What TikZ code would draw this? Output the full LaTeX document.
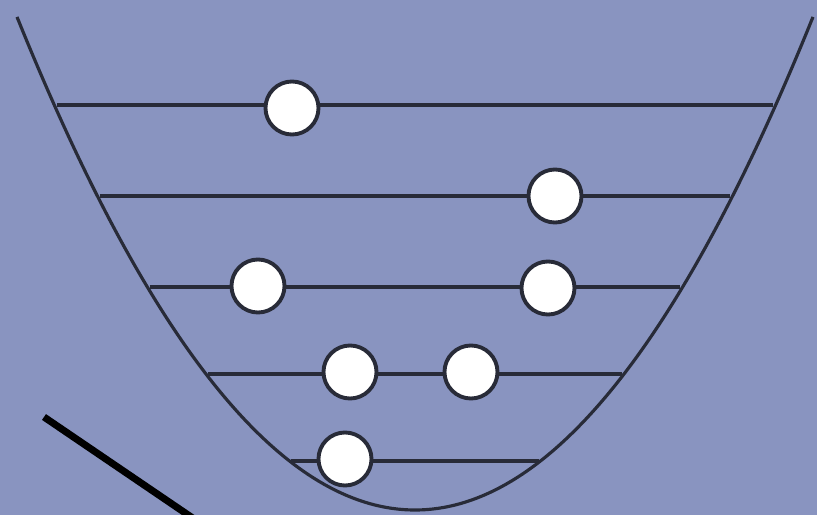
\documentclass[tikz,border=0pt]{standalone}
\definecolor{bgblue}{RGB}{137,148,192}
\definecolor{inkdark}{RGB}{40,43,56}
\tikzset{
  level/.style={draw=inkdark, line width=1.15pt},
  well/.style={draw=inkdark, line width=0.9pt},
  ball/.style={circle, draw=inkdark, fill=white, line width=1.1pt, minimum size=0.53cm, inner sep=0pt},
  pointer/.style={draw=black, line width=2pt}
}
\begin{document}
\begin{tikzpicture}[x=0.01cm, y=-0.01cm]
\fill[bgblue] (0,0) rectangle (817,515);
\useasboundingbox (0,0) rectangle (817,515);
\begin{scope}
\clip (0,0) rectangle (817,515);
\draw[well] plot[domain=17:813, samples=120, smooth] (\x, {510 - 0.00311*(\x-415)*(\x-415)});
% level end points on the well
\coordinate (l1a) at (57,105);  \coordinate (l1b) at (773,105);
\coordinate (l2a) at (100,196); \coordinate (l2b) at (730,196);
\coordinate (l3a) at (150,287); \coordinate (l3b) at (680,287);
\coordinate (l4a) at (208,374); \coordinate (l4b) at (622,374);
\coordinate (l5a) at (291,461); \coordinate (l5b) at (539,461);
\draw[level] (l1a) -- (l1b);
\draw[level] (l2a) -- (l2b);
\draw[level] (l3a) -- (l3b);
\draw[level] (l4a) -- (l4b);
\draw[level] (l5a) -- (l5b);
\node[ball] (b1) at (292,108) {};
\node[ball] (b2) at (555,196) {};
\node[ball] (b3) at (258,286) {};
\node[ball] (b4) at (548,288) {};
\node[ball] (b5) at (350,372) {};
\node[ball] (b6) at (471,372) {};
\node[ball] (b7) at (345,459) {};
\coordinate (pa) at (44,417);
\coordinate (pb) at (200,523);
\draw[pointer] (pa) -- (pb);
\end{scope}
\end{tikzpicture}
\end{document}
